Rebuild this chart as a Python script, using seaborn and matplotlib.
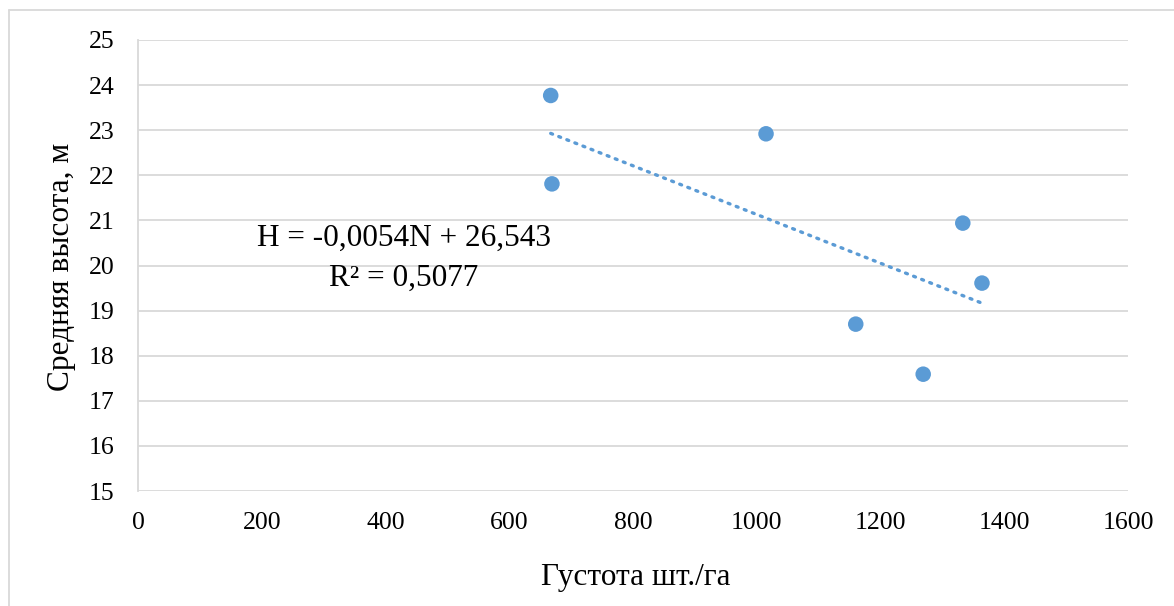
import numpy as np
import pandas as pd
import matplotlib
matplotlib.use("Agg")
import matplotlib.pyplot as plt
import seaborn as sns
from matplotlib.lines import Line2D

density = [667, 669, 1015, 1333, 1364, 1160, 1269]
height = [23.77, 21.81, 22.92, 20.94, 19.61, 18.70, 17.59]
x_ticks = [0, 200, 400, 600, 800, 1000, 1200, 1400, 1600]
y_ticks = [15, 16, 17, 18, 19, 20, 21, 22, 23, 24, 25]
eq_text = "H = -0,0054N + 26,543\nR² = 0,5077"
x_label = "Густота шт./га"
y_label = "Средняя высота, м"

df = pd.DataFrame({"N": density, "H": height})

sns.set_theme(style="white")
plt.rcParams['font.family'] = ['Liberation Serif', 'DejaVu Serif']

fig = plt.figure(figsize=(11.74, 6.06), dpi=100)
ax = fig.add_axes([138/1174, 1-491/606, (1128-138)/1174, (491-40)/606])

color = "#5B9BD5"
# trendline
slope, intercept = np.polyfit(df["N"], df["H"], 1)
xs = np.array([df["N"].min(), df["N"].max()])
ax.plot(xs, slope*xs + intercept, color=color, lw=2.4,
        linestyle=(0, (0.6, 2.0)), dash_capstyle="round", zorder=2)

sns.scatterplot(data=df, x="N", y="H", ax=ax, color=color, s=125,
                edgecolor="none", zorder=3)

ax.set_xlim(0, 1600)
ax.set_ylim(15, 25)
ax.set_xticks(x_ticks)
ax.set_yticks(y_ticks)
ax.tick_params(axis="both", labelsize=18.5, length=0, colors="black")
ax.tick_params(axis="x", pad=15)
ax.tick_params(axis="y", pad=17)
ax.grid(axis="y", color="#D9D9D9", lw=1.3)
ax.grid(axis="x", visible=False)
for s in ["top", "right", "bottom"]:
    ax.spines[s].set_visible(False)
ax.spines["left"].set_color("#D9D9D9")
ax.spines["left"].set_linewidth(1.3)

ax.set_xlabel(x_label, fontsize=22.5, color="black")
ax.set_ylabel(y_label, fontsize=22.5, color="black")
ax.xaxis.label.set_va("center")
ax.yaxis.label.set_va("center")
ax.xaxis.set_label_coords(0.503, (491-578)/451)
ax.yaxis.set_label_coords((62-138)/990, 0.497)

ax.text(430, 20.17, eq_text, fontsize=22.5, ha="center", va="center",
        linespacing=1.5, color="black")

# chart area border (top and left visible)
fig.add_artist(Line2D([9/1174, 9/1174], [0, 1-10/606], color="#D9D9D9", lw=1.3,
                      transform=fig.transFigure))
fig.add_artist(Line2D([9/1174, 1], [1-10/606, 1-10/606], color="#D9D9D9", lw=1.3,
                      transform=fig.transFigure))

fig.savefig("out.png", dpi=100)
